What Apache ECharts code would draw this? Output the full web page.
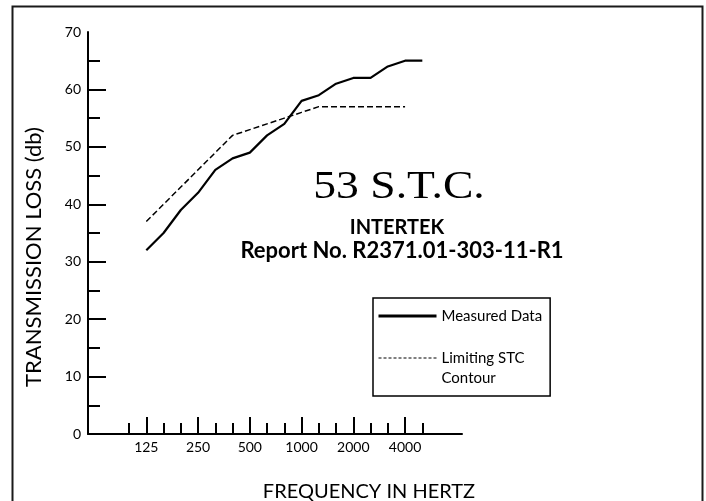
<!DOCTYPE html>
<html><head><meta charset="utf-8">
<script src="https://cdn.jsdelivr.net/npm/echarts@6/dist/echarts.min.js"></script>
<style>html,body{margin:0;padding:0;background:#fff}#c{width:706px;height:501px}</style>
</head><body><div id="c"></div>
<script>
// 1/3-octave band centre frequencies (Hz)
const bands = ['100','125','160','200','250','315','400','500','630','800','1000','1250','1600','2000','2500','3150','4000','5000'];
const labeledBands = ['125','250','500','1000','2000','4000'];
const measuredBands = ['125','160','200','250','315','400','500','630','800','1000','1250','1600','2000','2500','3150','4000','5000'];
const measuredValues = [32,35,39,42,46,48,49,52,54,58,59,61,62,62,64,65,65];
const stcBands = ['125','160','200','250','315','400','500','630','800','1000','1250','1600','2000','2500','3150','4000'];
const stcValues = [37,40,43,46,49,52,53,54,55,56,57,57,57,57,57,57];
const yLabels = [0,10,20,30,40,50,60,70];
const yMajorTickMax = 60;   // long ticks every 10 up to 60
const yMinorTicks = [5,15,25,35,45,55,65];

const idx = b => bands.indexOf(b);
const majorX = labeledBands.map(idx);
const minorX = bands.map((b,i)=>i).filter(i => majorX.indexOf(i) < 0);
const measuredData = measuredBands.map((b,i)=>[idx(b), measuredValues[i]]);
const stcData = stcBands.map((b,i)=>[idx(b), stcValues[i]]);

const SANS = 'Lato';
const W = 706, H = 501, G_LEFT = 88, G_RIGHT = 244, G_TOP = 32, G_BOTTOM = 67, Y_MAX = 70, MAJOR_LEN = 18;
const pxPerUnit = (H - G_TOP - G_BOTTOM) / Y_MAX;
const majorTop = G_TOP + (Y_MAX - yMajorTickMax) * pxPerUnit;
const chart = echarts.init(document.getElementById('c'), null, {renderer:'canvas'});
const xBase = {type:'value', min:-2.38, max:19.3, gridIndex:0, position:'bottom', splitLine:{show:false}};
const yBase = {type:'value', min:0, max:Y_MAX, gridIndex:0, position:'left', splitLine:{show:false}};
chart.setOption({
  animation:false,
  backgroundColor:'#fff',
  grid:[
    {left:G_LEFT, right:G_RIGHT, top:G_TOP, bottom:G_BOTTOM, outerBoundsMode:'none'},
    // narrow strip along the y axis: its split lines form the long ticks at 10, 20 ... 60
    {left:G_LEFT, right:W - G_LEFT - MAJOR_LEN, top:majorTop, bottom:G_BOTTOM, outerBoundsMode:'none'}
  ],
  xAxis:[
    Object.assign({}, xBase, {
      axisLine:{show:true, onZero:false, lineStyle:{color:'#000', width:2}},
      axisTick:{show:true, inside:true, length:11, customValues:minorX, lineStyle:{color:'#000', width:2}},
      axisLabel:{show:false}
    }),
    Object.assign({}, xBase, {
      axisLine:{show:false, onZero:false},
      axisTick:{show:true, inside:true, length:17, customValues:majorX, lineStyle:{color:'#000', width:2}},
      axisLabel:{show:true, customValues:majorX, margin:6, color:'#000', fontFamily:SANS, fontSize:14,
        formatter: v => bands[Math.round(v)]}
    }),
    {type:'value', gridIndex:1, min:0, max:1, show:false}
  ],
  yAxis:[
    Object.assign({}, yBase, {
      interval:10,
      axisLine:{show:true, onZero:false, lineStyle:{color:'#000', width:2}},
      axisTick:{show:false},
      axisLabel:{show:true, customValues:yLabels, margin:7, color:'#000', fontFamily:SANS, fontSize:14}
    }),
    Object.assign({}, yBase, {
      axisLine:{show:false, onZero:false},
      axisTick:{show:true, inside:true, length:12, customValues:yMinorTicks, lineStyle:{color:'#000', width:2}},
      axisLabel:{show:false}
    }),
    {type:'value', gridIndex:1, position:'left', min:0, max:yMajorTickMax, interval:10,
      axisLine:{show:false, onZero:false}, axisTick:{show:false}, axisLabel:{show:false},
      splitLine:{show:true, lineStyle:{color:'#000', width:2, type:'solid'}}}
  ],
  legend:{
    orient:'vertical', left:373, top:298, padding:[8,8,8,4], itemGap:2,
    itemWidth:58, itemHeight:18, selectedMode:false,
    borderColor:'#000', borderWidth:1.5,
    textStyle:{fontFamily:SANS, fontSize:15, color:'#000', lineHeight:20},
    data:[
      {name:'Measured Data', itemStyle:{opacity:0}, lineStyle:{width:3, color:'#000', opacity:1}},
      {name:'Limiting STC Contour', itemStyle:{opacity:0}, lineStyle:{width:1, color:'#000', type:[3,2], opacity:1}}
    ],
    formatter: n => n === 'Limiting STC Contour' ? '\nLimiting STC\nContour' : n
  },
  series:[
    {name:'Measured Data', type:'line', xAxisIndex:0, yAxisIndex:0, data:measuredData, symbol:'none',
      lineStyle:{color:'#000', width:2.2}, itemStyle:{color:'#000'}, z:3},
    {name:'Limiting STC Contour', type:'line', xAxisIndex:0, yAxisIndex:0, data:stcData, symbol:'none',
      lineStyle:{color:'#000', width:1.5, type:[6,3]}, itemStyle:{color:'#000'}, z:2}
  ],
  graphic:[
    {type:'rect', shape:{x:12.5, y:6.5, width:690, height:520}, style:{fill:'none', stroke:'#1a1a1a', lineWidth:2}, silent:true},
    {type:'text', x:399, y:188, scaleX:1.17, style:{text:'53 S.T.C.', fontFamily:'Liberation Serif', fontSize:39, fill:'#000', align:'center', verticalAlign:'middle'}},
    {type:'text', x:397, y:228, style:{text:'INTERTEK', fontFamily:SANS, fontWeight:'bold', fontSize:20, fill:'#000', align:'center', verticalAlign:'middle'}},
    {type:'text', x:402, y:251, style:{text:'Report No. R2371.01-303-11-R1', fontFamily:SANS, fontWeight:'bold', fontSize:22, fill:'#000', align:'center', verticalAlign:'middle'}},
    {type:'text', x:369, y:492, style:{text:'FREQUENCY IN HERTZ', fontFamily:SANS, fontSize:20, fill:'#000', align:'center', verticalAlign:'middle'}},
    {type:'text', x:34, y:257, rotation:Math.PI/2, style:{text:'TRANSMISSION LOSS (db)', fontFamily:SANS, fontSize:22, fill:'#000', align:'center', verticalAlign:'middle'}}
  ]
});
</script></body></html>
